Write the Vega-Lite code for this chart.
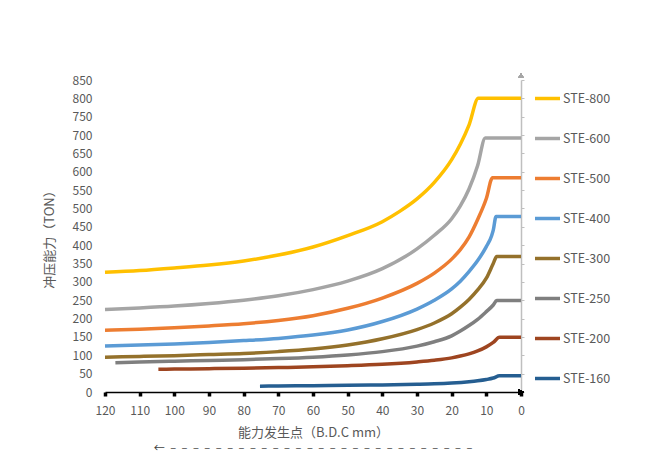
{
  "$schema": "https://vega.github.io/schema/vega-lite/v6.json",
  "width": 416,
  "height": 312,
  "autosize": "none",
  "padding": {"left": 105, "top": 80, "right": 137, "bottom": 71},
  "background": "white",
  "title": {"text": "←\u2002–\u2002–\u2002–\u2002–\u2002–\u2002–\u2002–\u2002–\u2002–\u2002–\u2002–\u2002–\u2002–\u2002–\u2002–\u2002–\u2002–\u2002–\u2002–\u2002–\u2002–\u2002–\u2002–\u2002–\u2002–\u2002–\u2002–", "orient": "bottom", "anchor": "middle", "offset": 4, "fontSize": 11, "fontWeight": "normal", "color": "#404040"},
  "config": {"view": {"stroke": null}, "font": "Noto Sans CJK SC"},
  "data": {"values": [
    {"series":"STE-800","mm":120,"ton":326},{"series":"STE-800","mm":110,"ton":331},{"series":"STE-800","mm":100,"ton":338},{"series":"STE-800","mm":90,"ton":346},{"series":"STE-800","mm":80,"ton":357},{"series":"STE-800","mm":70,"ton":373},{"series":"STE-800","mm":60,"ton":395},{"series":"STE-800","mm":50,"ton":426},{"series":"STE-800","mm":40,"ton":464},{"series":"STE-800","mm":35,"ton":492},{"series":"STE-800","mm":30,"ton":526},{"series":"STE-800","mm":25,"ton":571},{"series":"STE-800","mm":20,"ton":633},{"series":"STE-800","mm":17.5,"ton":675},{"series":"STE-800","mm":15,"ton":727},{"series":"STE-800","mm":12.3,"ton":800},{"series":"STE-800","mm":0,"ton":800},
    {"series":"STE-600","mm":120,"ton":225},{"series":"STE-600","mm":110,"ton":229},{"series":"STE-600","mm":100,"ton":234},{"series":"STE-600","mm":90,"ton":241},{"series":"STE-600","mm":80,"ton":250},{"series":"STE-600","mm":70,"ton":262},{"series":"STE-600","mm":60,"ton":279},{"series":"STE-600","mm":50,"ton":302},{"series":"STE-600","mm":40,"ton":336},{"series":"STE-600","mm":30,"ton":390},{"series":"STE-600","mm":25,"ton":427},{"series":"STE-600","mm":20,"ton":472},{"series":"STE-600","mm":17.5,"ton":507},{"series":"STE-600","mm":15,"ton":553},{"series":"STE-600","mm":12.5,"ton":617},{"series":"STE-600","mm":10.3,"ton":692},{"series":"STE-600","mm":0,"ton":692},
    {"series":"STE-500","mm":120,"ton":168},{"series":"STE-500","mm":110,"ton":171},{"series":"STE-500","mm":100,"ton":175},{"series":"STE-500","mm":90,"ton":180},{"series":"STE-500","mm":80,"ton":186},{"series":"STE-500","mm":70,"ton":195},{"series":"STE-500","mm":60,"ton":208},{"series":"STE-500","mm":50,"ton":228},{"series":"STE-500","mm":40,"ton":256},{"series":"STE-500","mm":30,"ton":296},{"series":"STE-500","mm":25,"ton":324},{"series":"STE-500","mm":20,"ton":362},{"series":"STE-500","mm":17.5,"ton":388},{"series":"STE-500","mm":15,"ton":422},{"series":"STE-500","mm":12.5,"ton":470},{"series":"STE-500","mm":10,"ton":527},{"series":"STE-500","mm":8.2,"ton":584},{"series":"STE-500","mm":0,"ton":584},
    {"series":"STE-400","mm":120,"ton":125},{"series":"STE-400","mm":110,"ton":128},{"series":"STE-400","mm":100,"ton":131},{"series":"STE-400","mm":90,"ton":135},{"series":"STE-400","mm":80,"ton":140},{"series":"STE-400","mm":70,"ton":146},{"series":"STE-400","mm":60,"ton":155},{"series":"STE-400","mm":50,"ton":169},{"series":"STE-400","mm":40,"ton":192},{"series":"STE-400","mm":30,"ton":226},{"series":"STE-400","mm":25,"ton":250},{"series":"STE-400","mm":20,"ton":281},{"series":"STE-400","mm":17.5,"ton":302},{"series":"STE-400","mm":15,"ton":328},{"series":"STE-400","mm":12.5,"ton":358},{"series":"STE-400","mm":10,"ton":396},{"series":"STE-400","mm":8.5,"ton":425},{"series":"STE-400","mm":8,"ton":441},{"series":"STE-400","mm":7.2,"ton":478},{"series":"STE-400","mm":0,"ton":478},
    {"series":"STE-300","mm":120,"ton":95},{"series":"STE-300","mm":110,"ton":97},{"series":"STE-300","mm":100,"ton":99},{"series":"STE-300","mm":90,"ton":102},{"series":"STE-300","mm":80,"ton":105},{"series":"STE-300","mm":70,"ton":110},{"series":"STE-300","mm":60,"ton":117},{"series":"STE-300","mm":50,"ton":128},{"series":"STE-300","mm":40,"ton":145},{"series":"STE-300","mm":30,"ton":170},{"series":"STE-300","mm":25,"ton":188},{"series":"STE-300","mm":20,"ton":213},{"series":"STE-300","mm":17.5,"ton":231},{"series":"STE-300","mm":15,"ton":252},{"series":"STE-300","mm":12.5,"ton":278},{"series":"STE-300","mm":10,"ton":310},{"series":"STE-300","mm":8,"ton":350},{"series":"STE-300","mm":7,"ton":369},{"series":"STE-300","mm":0,"ton":369},
    {"series":"STE-250","mm":117,"ton":80},{"series":"STE-250","mm":110,"ton":82},{"series":"STE-250","mm":100,"ton":84},{"series":"STE-250","mm":90,"ton":86},{"series":"STE-250","mm":80,"ton":88},{"series":"STE-250","mm":70,"ton":91},{"series":"STE-250","mm":60,"ton":95},{"series":"STE-250","mm":50,"ton":101},{"series":"STE-250","mm":40,"ton":110},{"series":"STE-250","mm":30,"ton":125},{"series":"STE-250","mm":25,"ton":137},{"series":"STE-250","mm":20,"ton":153},{"series":"STE-250","mm":17.5,"ton":166},{"series":"STE-250","mm":15,"ton":181},{"series":"STE-250","mm":12.5,"ton":198},{"series":"STE-250","mm":10,"ton":219},{"series":"STE-250","mm":8,"ton":237},{"series":"STE-250","mm":7,"ton":249},{"series":"STE-250","mm":0,"ton":249},
    {"series":"STE-200","mm":104.6,"ton":62},{"series":"STE-200","mm":100,"ton":62.5},{"series":"STE-200","mm":90,"ton":63.5},{"series":"STE-200","mm":80,"ton":65},{"series":"STE-200","mm":70,"ton":66.5},{"series":"STE-200","mm":60,"ton":68.5},{"series":"STE-200","mm":50,"ton":71.5},{"series":"STE-200","mm":40,"ton":75.5},{"series":"STE-200","mm":30,"ton":82},{"series":"STE-200","mm":25,"ton":86.5},{"series":"STE-200","mm":20,"ton":93},{"series":"STE-200","mm":17.5,"ton":98},{"series":"STE-200","mm":15,"ton":104},{"series":"STE-200","mm":12.5,"ton":112},{"series":"STE-200","mm":10,"ton":123},{"series":"STE-200","mm":8,"ton":135},{"series":"STE-200","mm":6.2,"ton":149},{"series":"STE-200","mm":0,"ton":149},
    {"series":"STE-160","mm":75.3,"ton":16},{"series":"STE-160","mm":70,"ton":16.5},{"series":"STE-160","mm":60,"ton":17.3},{"series":"STE-160","mm":50,"ton":18.2},{"series":"STE-160","mm":40,"ton":19.4},{"series":"STE-160","mm":30,"ton":21},{"series":"STE-160","mm":25,"ton":22.3},{"series":"STE-160","mm":20,"ton":24.5},{"series":"STE-160","mm":15,"ton":28},{"series":"STE-160","mm":12.5,"ton":30.5},{"series":"STE-160","mm":10,"ton":34},{"series":"STE-160","mm":8,"ton":38},{"series":"STE-160","mm":6.2,"ton":44},{"series":"STE-160","mm":0,"ton":44}
  ]},
  "layer": [
    {
      "mark": {"type": "line", "strokeWidth": 3.5, "interpolate": "monotone", "clip": false},
      "encoding": {
        "x": {"field": "mm", "type": "quantitative",
          "scale": {"domain": [0, 120], "reverse": true, "nice": false},
          "axis": {
            "title": "能力发生点（B.D.C mm）",
            "values": [0,10,20,30,40,50,60,70,80,90,100,110,120],
            "labelOverlap": false, "labelFlush": false,
            "grid": false, "ticks": true,
            "domainColor": "#000000", "domainWidth": 1.5,
            "tickColor": "#000000", "tickSize": 4, "tickWidth": 3.5,
            "labelColor": "#595959", "labelFontSize": 12, "labelPadding": 9,
            "titleColor": "#595959", "titleFontSize": 13, "titleFontWeight": "normal",
            "titlePadding": 10
          }},
        "y": {"field": "ton", "type": "quantitative",
          "scale": {"domain": [0, 850], "nice": false},
          "axis": {
            "title": "冲压能力（TON）",
            "values": [0,50,100,150,200,250,300,350,400,450,500,550,600,650,700,750,800,850],
            "labelOverlap": false,
            "grid": false, "domain": false, "ticks": false,
            "labelColor": "#595959", "labelFontSize": 12, "labelPadding": 13,
            "titleColor": "#595959", "titleFontSize": 13, "titleFontWeight": "normal",
            "titlePadding": 16
          }},
        "color": {"field": "series", "type": "nominal",
          "scale": {
            "domain": ["STE-800","STE-600","STE-500","STE-400","STE-300","STE-250","STE-200","STE-160"],
            "range": ["#FFC000","#A5A5A5","#ED7D31","#5B9BD5","#94712B","#7F7F7F","#9E4520","#255E91"]
          },
          "legend": {
            "orient": "none", "legendX": 428, "legendY": 4,
            "title": null, "symbolType": "stroke", "symbolStrokeWidth": 3.5,
            "symbolSize": 625, "labelOffset": 1, "labelFontSize": 12.5,
            "labelColor": "#595959", "rowPadding": 18, "padding": 0
          }}
      }
    },
    {
      "mark": {"type": "point", "opacity": 0},
      "encoding": {
        "x": {"field": "mm", "type": "quantitative", "axis": null},
        "y": {"field": "ton", "type": "quantitative",
          "axis": {"orient": "right", "title": null, "labels": false, "grid": false,
            "values": [0,50,100,150,200,250,300,350,400,450,500,550,600,650,700,750,800,850],
            "domainColor": "#BFBFBF", "domainWidth": 1.5, "tickColor": "#BFBFBF", "tickSize": 3}}
      }
    },
    {
      "mark": {"type": "point", "shape": "triangle-right", "filled": true, "color": "#000000", "size": 30, "opacity": 1, "clip": false},
      "encoding": {"x": {"datum": 0, "type": "quantitative", "axis": null}, "y": {"datum": 0, "type": "quantitative", "axis": null}}
    },
    {
      "mark": {"type": "point", "shape": "triangle-up", "filled": true, "color": "#A6A6A6", "size": 30, "opacity": 1, "clip": false},
      "encoding": {"x": {"datum": 0, "type": "quantitative", "axis": null}, "y": {"datum": 862, "type": "quantitative", "axis": null}}
    }
  ],
  "resolve": {"axis": {"x": "independent", "y": "independent"}}
}
